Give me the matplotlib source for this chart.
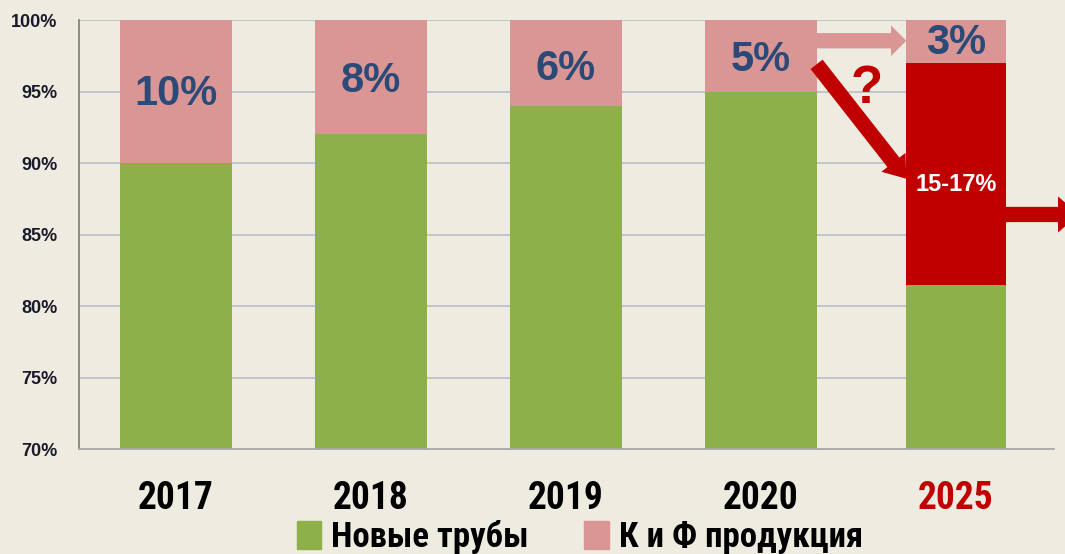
import numpy as np
import matplotlib
matplotlib.use('Agg')
import matplotlib.pyplot as plt
from matplotlib.patches import Patch, FancyArrowPatch

# данные
years = ['2017', '2018', '2019', '2020', '2025']
new_pipes = [90, 92, 94, 95, 81.5]          # Новые трубы
kf_prod = [10, 8, 6, 5, 3]                  # К и Ф продукция
red_part = [0, 0, 0, 0, 15.5]               # 2025: 15-17%
labels = ['10%', '8%', '6%', '5%', '3%']
label_y = [94.8, 95.7, 96.6, 97.2, 98.4]

GREEN = '#8DB04B'
PINK = '#D99694'
RED = '#C00000'
BLUE = '#2B4A78'
BG = '#EEEBE1'
NARROW = ['Roboto Condensed', 'Roboto', 'DejaVu Sans']

fig = plt.figure(figsize=(10.65, 5.54), dpi=100, facecolor=BG)
ax = fig.add_axes([78.5/1065, 1 - 449/554, 975/1065, 429/554])
ax.set_facecolor(BG)

x = np.arange(len(years))
widths = [0.57, 0.57, 0.57, 0.57, 0.51]
base = np.array(new_pipes)
ax.bar(x, new_pipes, width=widths, color=GREEN, zorder=2)
ax.bar(x, red_part, bottom=base, width=widths, color=RED, zorder=2)
ax.bar(x, kf_prod, bottom=base + np.array(red_part), width=widths, color=PINK, zorder=2)

ax.set_ylim(70, 100)
ax.set_xlim(-0.5, 4.5)

# сетка только до последнего столбца
for g in range(75, 101, 5):
    ax.hlines(g, -0.5, 4 + widths[-1] / 2, color='#B8BFCB', lw=1.2, zorder=1)

ax.set_yticks(range(70, 101, 5))
ax.set_yticklabels([f'{v}%' for v in range(70, 101, 5)],
                   fontsize=13, fontweight='bold', color='#1A1A2A',
                   family='Liberation Sans')
ax.tick_params(axis='y', length=0, pad=15)
ax.set_xticks(x)
ax.set_xticklabels(years, fontsize=27, fontweight='bold', family=NARROW)
ax.tick_params(axis='x', length=0, pad=22)
ax.get_xticklabels()[-1].set_color(RED)

for s in ['top', 'right']:
    ax.spines[s].set_visible(False)
ax.spines['left'].set_color('#858585')
ax.spines['left'].set_linewidth(1.3)
ax.spines['bottom'].set_color('#A8A8A8')
ax.spines['bottom'].set_linewidth(1.3)

for xi, t, yv in zip(x, labels, label_y):
    ax.text(xi, yv, t, ha='center', va='center', fontsize=30,
            fontweight='bold', color=BLUE, zorder=4, family='Liberation Sans')

ax.text(4, 88.5, '15-17%', ha='center', va='center', fontsize=17,
        fontweight='bold', color='white', zorder=4, family='Liberation Sans')
ax.text(3.54, 95.2, '?', ha='center', va='center', fontsize=38,
        fontweight='bold', color=RED, zorder=4, family='Liberation Sans')

# стрелки
x_l = 3 + widths[3] / 2
x_r = 4 - widths[4] / 2
a1 = FancyArrowPatch((x_l, 98.55), (x_r, 98.55),
                     arrowstyle='simple,head_length=11,head_width=22,tail_width=11',
                     color=PINK, lw=0, zorder=3, shrinkA=0, shrinkB=0)
a2 = FancyArrowPatch((x_l, 96.9), (x_r, 88.9),
                     arrowstyle='simple,head_length=15,head_width=22,tail_width=11',
                     color=RED, lw=0, zorder=3, shrinkA=0, shrinkB=0)
a3 = FancyArrowPatch((4 + widths[4] / 2, 86.4), (4.63, 86.4),
                     arrowstyle='simple,head_length=15,head_width=26,tail_width=11',
                     color=RED, lw=0, zorder=3, shrinkA=0, shrinkB=0, clip_on=False)
for a in (a1, a2, a3):
    ax.add_patch(a)

handles = [Patch(color=GREEN, label='Новые трубы'),
           Patch(color=PINK, label='К и Ф продукция')]
fig.legend(handles=handles, loc='center', bbox_to_anchor=(580/1065, 1 - 537/554),
           ncol=2, frameon=False, handlelength=0.7, handleheight=0.85,
           handletextpad=0.3, columnspacing=1.6, borderpad=0,
           prop={'family': NARROW, 'weight': 'bold', 'size': 25})

fig.savefig('out.png', dpi=100, facecolor=BG)
